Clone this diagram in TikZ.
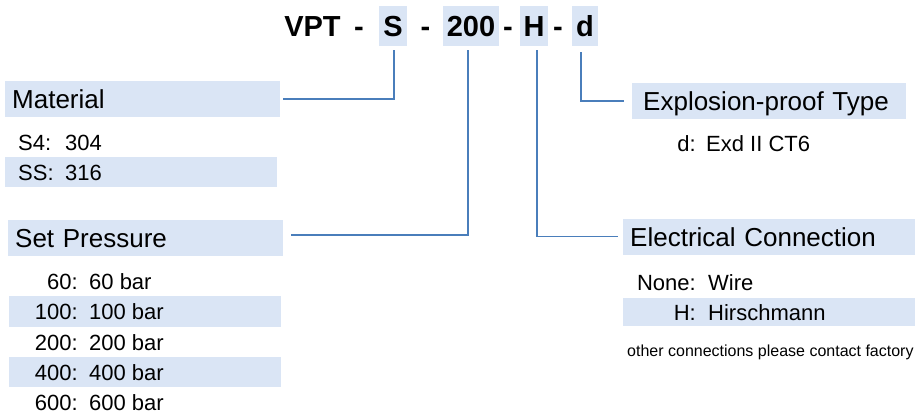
\documentclass[tikz,border=0pt]{standalone}
\usepackage{fontspec}
\setmainfont{Liberation Sans}
\usepackage{tikz}
\usetikzlibrary{positioning}

\definecolor{bandblue}{RGB}{218,229,245}
\definecolor{linkblue}{RGB}{74,126,187}
\newcommand{\hdrfont}{\fontsize{29}{34}\selectfont\bfseries}
\newcommand{\catfont}{\fontsize{26}{30}\selectfont}
\newcommand{\itemfont}{\fontsize{22}{26}\selectfont}
\newcommand{\notefont}{\fontsize{16}{19}\selectfont}

\begin{document}
\begin{tikzpicture}[
        x=1pt,
        y=-1pt,
        hdr/.style={font=\hdrfont, inner xsep=4pt, inner ysep=6pt, text height=24pt, text depth=4pt},
        hdrbox/.style={hdr, fill=bandblue},
        cat/.style={fill=bandblue, font=\catfont, anchor=west, inner ysep=0pt, minimum height=36pt, text height=19pt, text depth=0pt, align=left},
        key/.style={font=\itemfont, inner sep=0pt, text height=16pt, text depth=0pt},
        band/.style={fill=bandblue},
        link/.style={draw=linkblue, line width=1.5pt},
        note/.style={font=\notefont, inner sep=0pt, anchor=west}
    ]
        \useasboundingbox (0,0) rectangle (915,415);

        % Order code header, each field in its own box.
        \node[hdr] (vpt) at (312.5,26) {VPT};
        \node[hdr] (dashA) at (359,26) {-};
        \node[hdrbox] (hS) at (393,26) {S};
        \node[hdr] (dashB) at (425.5,26) {-};
        \node[hdrbox] (h200) at (471,26) {200};
        \node[hdr] (dashC) at (508,26) {-};
        \node[hdrbox] (hH) at (534,26) {H};
        \node[hdr] (dashD) at (558,26) {-};
        \node[hdrbox] (hd) at (585,26) {d};

        % Category boxes.
        \node[cat, inner xsep=7pt, text width=261pt] (mat) at (5,99) {Material};
        \node[cat, inner xsep=7pt, text width=261pt] (sp) at (8,238) {Set Pressure};
        \node[cat, inner xsep=11pt, text width=252pt] (ep) at (632,101) {Explosion-proof Type};
        \node[cat, inner xsep=7pt, text width=278pt] (ec) at (623,236.5) {Electrical Connection};

        % Shaded rows.
        \fill[band] (5,157) rectangle (277,187);
        \fill[band] (9,296) rectangle (281,327);
        \fill[band] (9,357) rectangle (281,387);
        \fill[band] (623,298) rectangle (915,326);

        % Material options.
        \foreach \k/\v/\y in {S4/304/142, SS/316/172} {
            \node[key, anchor=west] (m\k) at (18,\y) {\k:};
            \node[key, anchor=west] (mv\k) at (65,\y) {\v};
        }

        % Set pressure options.
        \foreach \k/\y in {60/281,100/311.5,200/342,400/372,600/402.5} {
            \node[key, anchor=east] (p\k) at (78,\y) {\k:};
            \node[key, anchor=west] (pv\k) at (89,\y) {\k\ bar};
        }

        % Explosion-proof option.
        \node[key, anchor=east] (dkey) at (696,143) {d:};
        \node[key, anchor=west] (dval) at (706,143) {Exd II CT6};

        % Electrical connection options.
        \foreach \k/\v/\y in {None/Wire/282, H/Hirschmann/312} {
            \node[key, anchor=east] (e\k) at (696,\y) {\k:};
            \node[key, anchor=west] (ev\k) at (708,\y) {\v};
        }
        \node[note] (other) at (627,352) {other connections please contact factory};

        % Leader lines from the code fields.
        \draw[link, shorten <=3pt, shorten >=4pt] (mat.east) -| ([xshift=1pt]hS.south);
        \draw[link, shorten <=8pt, shorten >=4pt] ([yshift=3pt]sp.east) -| ([xshift=-3pt]h200.south);
        \draw[link, shorten <=4pt, shorten >=5pt] ([xshift=3pt]hH.south) |- (ec.west);
        \draw[link, shorten <=6pt, shorten >=8pt] ([xshift=-4pt]hd.south) |- (ep.west);
    \end{tikzpicture}
\end{document}
